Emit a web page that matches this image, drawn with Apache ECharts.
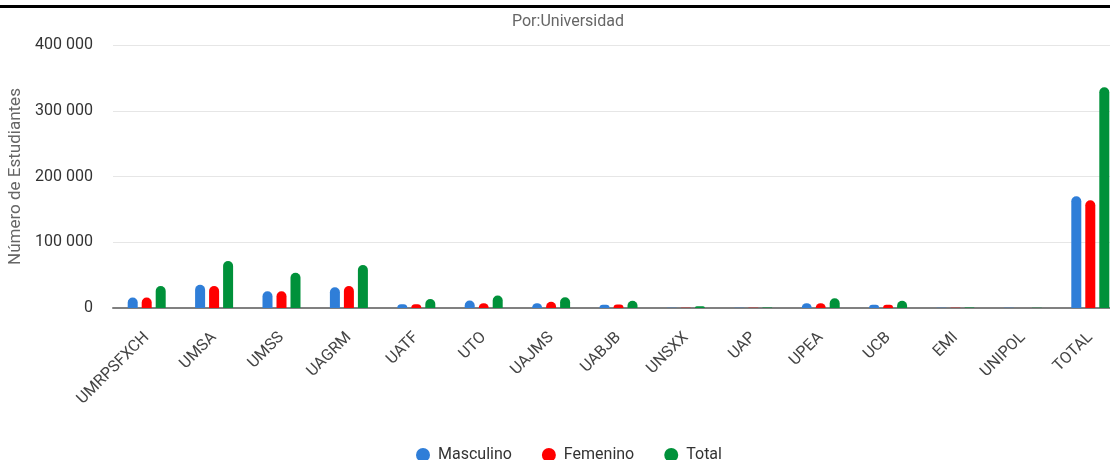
<!DOCTYPE html>
<html>
<head>
<meta charset="utf-8">
<title>Por:Universidad</title>
<script src="https://cdn.jsdelivr.net/npm/echarts@6/dist/echarts.min.js"></script>
<style>
  html, body { margin: 0; padding: 0; background: #fff; }
  #main { width: 1110px; height: 460px; }
</style>
</head>
<body>
<div id="main"></div>
<script>
// categorias (universidades)
var universidades = ['UMRPSFXCH', 'UMSA', 'UMSS', 'UAGRM', 'UATF', 'UTO', 'UAJMS', 'UABJB', 'UNSXX', 'UAP', 'UPEA', 'UCB', 'EMI', 'UNIPOL', 'TOTAL']
// valores
var masculino = [16000, 35400, 25400, 31500, 5600, 11400, 7300, 4900, 500, 300, 7300, 4900, 500, 200, 170000]
var femenino = [16000, 33500, 25400, 33500, 5600, 7300, 9400, 5300, 500, 300, 7300, 4900, 400, 100, 164000]
var total = [33500, 71500, 53700, 65400, 13800, 19000, 16400, 11000, 2700, 600, 14900, 11000, 900, 300, 335800]
// ticks del eje y
var yMax = 400000
var yInterval = 100000

var myChart = echarts.init(document.getElementById('main'))

function miles(v) {
  return String(v).replace(/\B(?=(\d{3})+(?!\d))/g, ' ')
}

function serie(name, data, color) {
  return {
    name: name,
    type: 'bar',
    data: data,
    barWidth: 10,
    barGap: '40%',
    itemStyle: { color: color, borderRadius: [5, 5, 0, 0] }
  }
}

var option = {
  backgroundColor: '#fff',
  textStyle: { fontFamily: 'Roboto, Arial, sans-serif' },
  title: {
    text: 'Por:Universidad',
    left: 507,
    top: 9,
    textStyle: { fontSize: 16, fontWeight: 'normal', color: '#666' }
  },
  // linea negra superior
  graphic: [{
    type: 'rect',
    shape: { x: 0, y: 5, width: 1110, height: 3 },
    style: { fill: '#000' }
  }],
  legend: {
    bottom: -8,
    left: 411,
    icon: 'circle',
    itemWidth: 14,
    itemHeight: 14,
    itemGap: 30,
    textStyle: { fontSize: 16, color: '#333', padding: [0, 0, 0, 3] },
    data: ['Masculino', 'Femenino', 'Total']
  },
  grid: {
    left: 113,
    top: 45,
    right: -14,
    bottom: 152,
    outerBoundsMode: 'none'
  },
  xAxis: {
    type: 'category',
    data: universidades,
    axisTick: { show: false },
    axisLine: { lineStyle: { color: '#808080', width: 2 } },
    axisLabel: { rotate: 45, fontSize: 16, color: '#444', interval: 0, margin: 27 }
  },
  yAxis: {
    type: 'value',
    min: 0,
    max: yMax,
    interval: yInterval,
    name: 'Número de Estudiantes',
    nameLocation: 'middle',
    nameGap: 88,
    nameTextStyle: { fontSize: 17, color: '#666' },
    axisLabel: { fontSize: 16, color: '#333', margin: 20, formatter: miles },
    splitLine: { lineStyle: { color: '#e6e6e6' } }
  },
  series: [
    serie('Masculino', masculino, '#2f7ed8'),
    serie('Femenino', femenino, '#ff0000'),
    serie('Total', total, '#00913a')
  ]
}

myChart.setOption(option)
</script>
</body>
</html>
